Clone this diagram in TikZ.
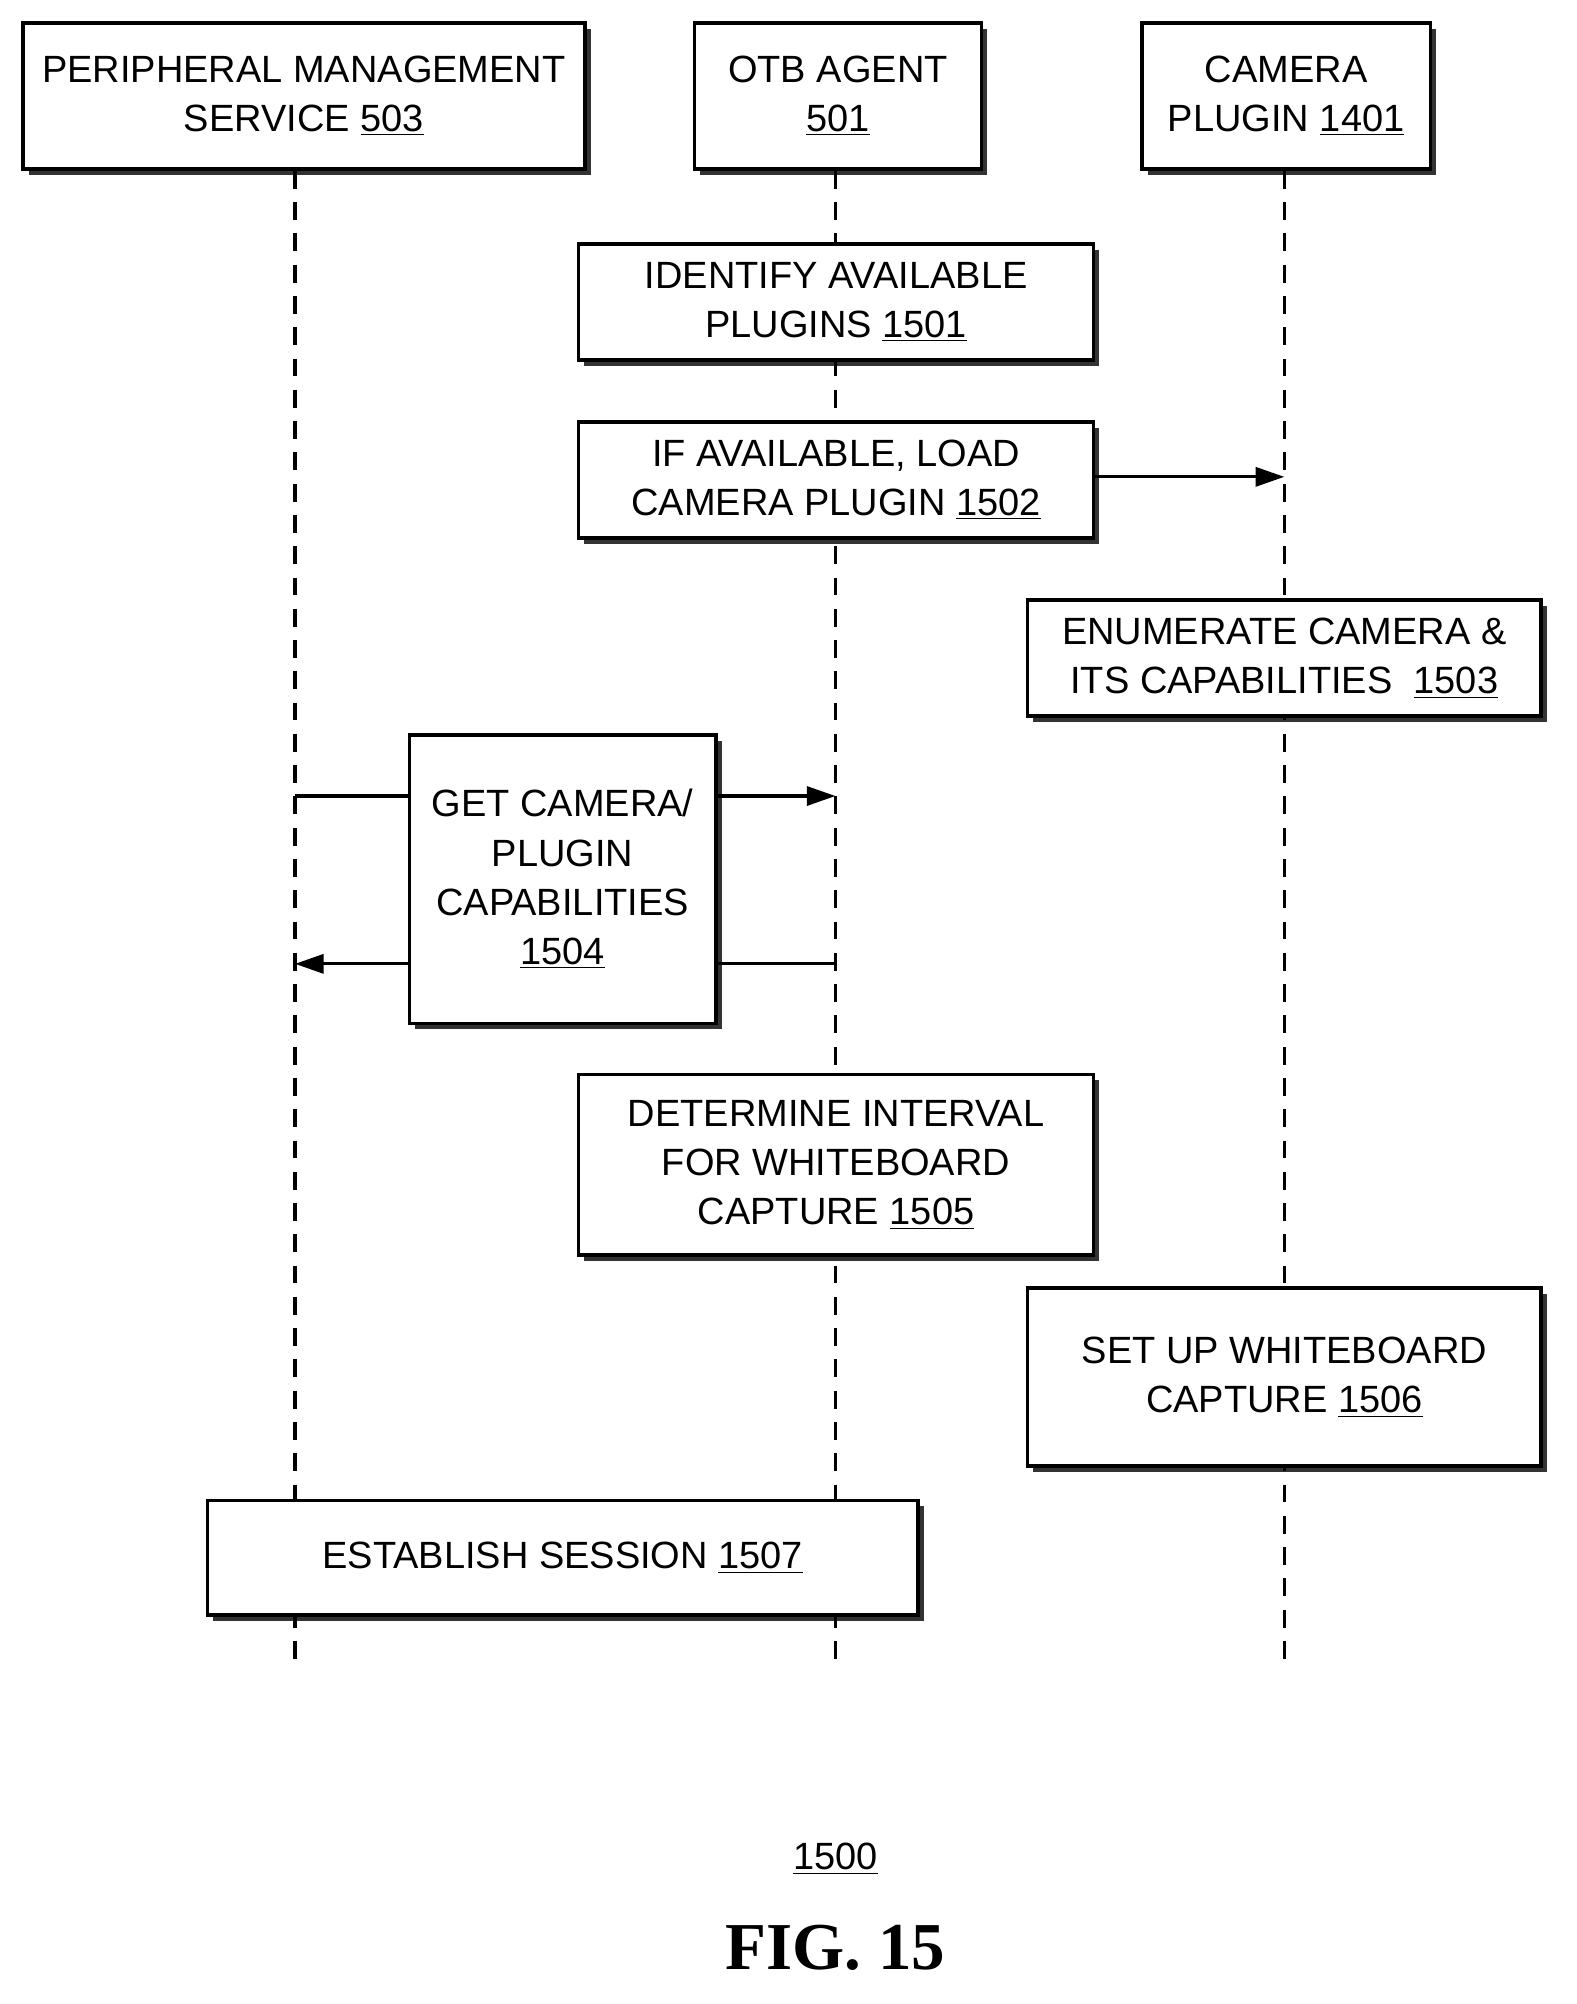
\documentclass[tikz,border=0pt]{standalone}
\usepackage{fontspec}
\setmainfont{Liberation Sans}
\newfontfamily\figfont{Liberation Serif}
\usetikzlibrary{arrows.meta,shadows,positioning}

\tikzset{
  blk/.style={draw, line width=1.6pt, fill=white, align=center,
    font=\fontsize{17}{22}\selectfont,
    drop shadow={shadow xshift=0.09cm, shadow yshift=-0.09cm, fill=black, opacity=0.8}},
  life/.style={dashed, line width=1.4pt, dash pattern=on 8pt off 6pt},
  msg/.style={line width=1.4pt, -{Triangle[length=0.45cm,width=0.3cm]}},
  seg/.style={line width=1.4pt}
}

\begin{document}
\begin{tikzpicture}[x=0.02cm, y=-0.02cm]
    \useasboundingbox (0,0) rectangle (1240,1576);

    % lifeline heads
    \node[blk, minimum width=8.84cm, minimum height=2.3cm] (pms) at (239,75.5) {PERIPHERAL MANAGEMENT\\SERVICE \underline{503}};
    \node[blk, minimum width=4.52cm, minimum height=2.3cm] (otb) at (659,75.5) {OTB AGENT\\\underline{501}};
    \node[blk, minimum width=4.54cm, minimum height=2.3cm] (cam) at (1011.5,75.5) {CAMERA\\PLUGIN \underline{1401}};

    % lifelines
    \coordinate (pmsEnd) at (232,1310);
    \coordinate (otbEnd) at (657,1310);
    \coordinate (camEnd) at (1010,1310);
    \draw[life] (pms.south -| pmsEnd) -- (pmsEnd);
    \draw[life] (otb.south -| otbEnd) -- (otbEnd);
    \draw[life] (cam.south -| camEnd) -- (camEnd);

    % steps
    \node[blk, minimum width=8.1cm, minimum height=1.82cm] (s1501) at (657.5,237.5) {IDENTIFY AVAILABLE\\PLUGINS \underline{1501}};
    \node[blk, minimum width=8.1cm, minimum height=1.82cm] (s1502) at (657.5,377.5) {IF AVAILABLE, LOAD\\CAMERA PLUGIN \underline{1502}};
    \node[blk, minimum width=8.08cm, minimum height=1.82cm] (s1503) at (1010,517.5) {ENUMERATE CAMERA \&\\ITS CAPABILITIES\ \ \underline{1503}};
    \node[blk, minimum width=4.82cm, minimum height=4.54cm] (s1504) at (442.5,691.5) {GET CAMERA/\\PLUGIN\\CAPABILITIES\\\underline{1504}};
    \node[blk, minimum width=8.1cm, minimum height=2.84cm] (s1505) at (657.5,916) {DETERMINE INTERVAL\\FOR WHITEBOARD\\CAPTURE \underline{1505}};
    \node[blk, minimum width=8.08cm, minimum height=2.8cm] (s1506) at (1010,1083) {SET UP WHITEBOARD\\CAPTURE \underline{1506}};
    \node[blk, minimum width=11.18cm, minimum height=1.8cm] (s1507) at (442.5,1225) {ESTABLISH SESSION \underline{1507}};

    % messages
    \coordinate (camIn) at (1010,375);
    \draw[msg] (s1502.east |- camIn) -- (camIn);
    \coordinate (reqA) at (232,626);
    \coordinate (reqB) at (657,626);
    \draw[seg] (reqA) -- (s1504.west |- reqA);
    \draw[msg] (s1504.east |- reqB) -- (reqB);
    \coordinate (repA) at (657,758);
    \coordinate (repB) at (232,758);
    \draw[seg] (repA) -- (s1504.east |- repA);
    \draw[msg] (s1504.west |- repB) -- (repB);

    % figure label
    \node[font=\fontsize{17}{22}\selectfont] (num) at (657,1462) {\underline{1500}};
    \node[font=\figfont\bfseries\fontsize{30}{34}\selectfont] (fig) at (657,1532) {FIG. 15};
\end{tikzpicture}
\end{document}
